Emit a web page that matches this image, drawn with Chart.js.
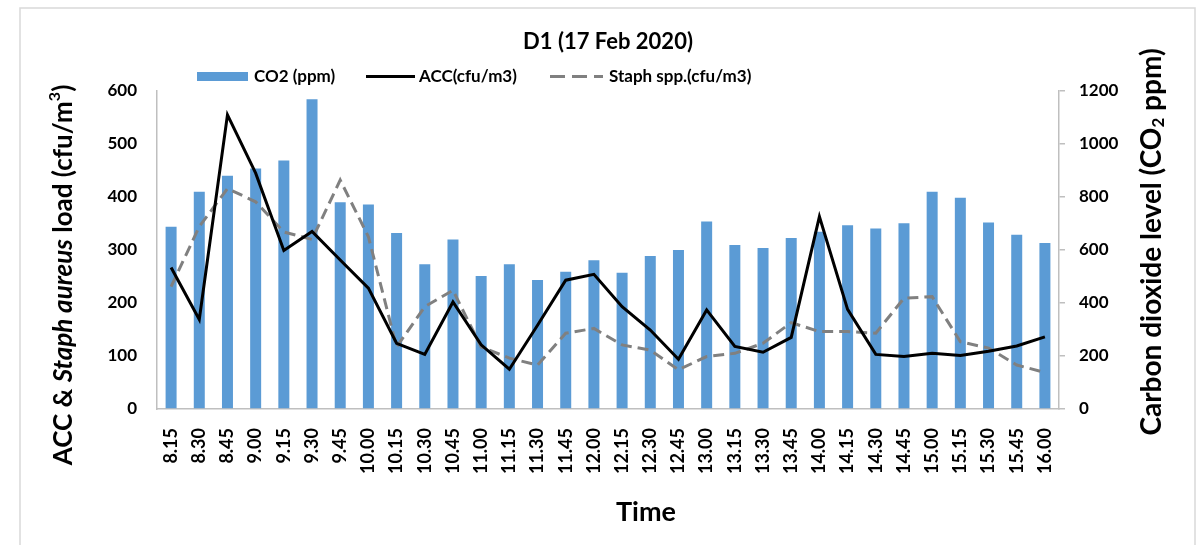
<!DOCTYPE html>
<html>
<head>
<meta charset="utf-8">
<script src="https://cdn.jsdelivr.net/npm/chart.js@4.4.1/dist/chart.umd.min.js"></script>
<style>
  html, body { margin: 0; padding: 0; background: #ffffff; }
  #wrap { width: 1198px; height: 545px; }
</style>
</head>
<body>
<div id="wrap"><canvas id="c" width="1198" height="545"></canvas></div>
<script>
// Sampling times (hh.mm)
const times = ['8.15','8.30','8.45','9.00','9.15','9.30','9.45','10.00','10.15','10.30','10.45',
  '11.00','11.15','11.30','11.45','12.00','12.15','12.30','12.45','13.00','13.15','13.30','13.45',
  '14.00','14.15','14.30','14.45','15.00','15.15','15.30','15.45','16.00'];

// CO2 concentration (ppm), right axis
const co2 = [688,820,880,908,938,1169,780,772,664,546,640,502,546,487,518,561,514,577,600,708,
  619,608,645,669,693,681,701,820,797,704,658,626];

// Aerobic colony count (cfu/m3), left axis
const acc = [267,169,555,445,299,335,281,228,124,103,202,121,75,158,243,254,193,149,94,187,
  118,107,135,363,188,103,99,105,101,109,119,136];

// Staphylococcus spp. (cfu/m3), left axis
const staph = [231,344,416,391,334,320,432,325,117,193,224,117,96,83,143,152,121,111,74,99,
  105,124,163,146,146,143,209,212,127,115,83,69];

const leftTicks = [0,100,200,300,400,500,600];
const rightTicks = [0,200,400,600,800,1000,1200];

const chartTitle = 'D1 (17 Feb 2020)';
const FONT = 'Lato, "Open Sans", sans-serif';
const AXIS_GREY = '#bfbfbf';

// Draws a rotated (bottom-to-top) title made of styled runs
function drawRotatedRuns(ctx, cx, cy, runs, size) {
  ctx.save();
  ctx.translate(cx, cy);
  ctx.rotate(-Math.PI / 2);
  ctx.fillStyle = '#000';
  ctx.textBaseline = 'middle';
  ctx.textAlign = 'left';
  const fontOf = r => (r.italic ? 'italic ' : '') + 'bold ' + (r.script ? Math.round(size * 0.6) : size) + 'px ' + FONT;
  let total = 0;
  runs.forEach(r => { ctx.font = fontOf(r); total += ctx.measureText(r.text).width; });
  let x = -total / 2;
  runs.forEach(r => {
    ctx.font = fontOf(r);
    const dy = r.script === 'sup' ? -size * 0.35 : r.script === 'sub' ? size * 0.25 : 0;
    ctx.fillText(r.text, x, dy);
    x += ctx.measureText(r.text).width;
  });
  ctx.restore();
}

const decorations = {
  id: 'decorations',
  beforeDraw(chart) {
    const ctx = chart.ctx;
    ctx.save();
    ctx.fillStyle = '#ffffff';
    ctx.fillRect(0, 0, chart.width, chart.height);
    ctx.strokeStyle = '#d9d9d9';
    ctx.lineWidth = 1.5;
    ctx.strokeRect(20, 8, 1175, 560);
    ctx.restore();
  },
  afterDraw(chart) {
    const ctx = chart.ctx;
    ctx.save();
    ctx.fillStyle = '#000';
    ctx.textBaseline = 'middle';

    // chart title
    ctx.font = 'bold 22px ' + FONT;
    ctx.textAlign = 'center';
    ctx.fillText(chartTitle, 608, 42);

    // legend row
    const items = [
      { ds: 0, x: 197, tx: 254 },
      { ds: 1, x: 366, tx: 419 },
      { ds: 2, x: 550, tx: 609 }
    ];
    const ly = 76.5;
    ctx.font = 'bold 17px ' + FONT;
    ctx.textAlign = 'left';
    items.forEach(it => {
      const ds = chart.data.datasets[it.ds];
      if (ds.type === 'bar') {
        ctx.fillStyle = ds.backgroundColor;
        ctx.fillRect(it.x, ly - 4.5, 51, 9);
      } else {
        ctx.strokeStyle = ds.borderColor;
        ctx.lineWidth = ds.borderWidth;
        ctx.setLineDash(ds.borderDash ? [15, 7] : []);
        ctx.beginPath();
        ctx.moveTo(it.x, ly);
        ctx.lineTo(it.x + (ds.borderDash ? 53 : 49), ly);
        ctx.stroke();
        ctx.setLineDash([]);
      }
      ctx.fillStyle = '#000';
      ctx.fillText(ds.label, it.tx, ly);
    });

    // x axis title
    ctx.font = 'bold 27px ' + FONT;
    ctx.textAlign = 'center';
    ctx.fillText('Time', 646, 512);
    ctx.restore();

    // y axis titles
    drawRotatedRuns(ctx, 64, 275, [
      { text: 'ACC & ' },
      { text: 'Staph aureus', italic: true },
      { text: ' load (cfu/m' },
      { text: '3', script: 'sup' },
      { text: ')' }
    ], 26);
    drawRotatedRuns(ctx, 1152, 242, [
      { text: 'Carbon dioxide level (CO' },
      { text: '2', script: 'sub' },
      { text: ' ppm)' }
    ], 28);
  }
};

new Chart(document.getElementById('c'), {
  data: {
    labels: times,
    datasets: [
      {
        type: 'bar',
        label: 'CO2 (ppm)',
        data: co2,
        yAxisID: 'y2',
        backgroundColor: '#5b9bd5',
        borderWidth: 0,
        barPercentage: 0.78,
        categoryPercentage: 0.5,
        order: 3
      },
      {
        type: 'line',
        label: 'ACC(cfu/m3)',
        data: acc,
        yAxisID: 'y',
        borderColor: '#000000',
        borderWidth: 3,
        pointRadius: 0,
        tension: 0,
        order: 1
      },
      {
        type: 'line',
        label: 'Staph spp.(cfu/m3)',
        data: staph,
        yAxisID: 'y',
        borderColor: '#808080',
        borderWidth: 3,
        borderDash: [11, 6],
        pointRadius: 0,
        tension: 0,
        order: 2
      }
    ]
  },
  options: {
    responsive: false,
    animation: false,
    devicePixelRatio: 1,
    layout: { padding: { top: 91, left: 0, right: 0, bottom: 0 } },
    plugins: {
      legend: { display: false },
      tooltip: { enabled: false },
      title: { display: false }
    },
    scales: {
      x: {
        offset: true,
        grid: { display: true, drawOnChartArea: false, drawTicks: false },
        border: { display: true, color: AXIS_GREY, width: 1.5 },
        ticks: {
          autoSkip: false, minRotation: 90, maxRotation: 90, padding: 19,
          color: '#000', font: { family: FONT, size: 18, weight: 'bold' }
        },
        afterFit(scale) { scale.height = 136; }
      },
      y: {
        position: 'left',
        min: 0, max: 600,
        afterBuildTicks(scale) { scale.ticks = leftTicks.map(v => ({ value: v })); },
        grid: { display: true, drawOnChartArea: false, drawTicks: false },
        border: { display: true, color: AXIS_GREY, width: 1.5 },
        ticks: {
          padding: 20, color: '#000', font: { family: FONT, size: 17, weight: 'bold' },
          callback: v => String(v)
        },
        afterFit(scale) { scale.width = 157; }
      },
      y2: {
        position: 'right',
        min: 0, max: 1200,
        afterBuildTicks(scale) { scale.ticks = rightTicks.map(v => ({ value: v })); },
        grid: { display: true, drawOnChartArea: false, drawTicks: true, tickLength: 6, color: AXIS_GREY, lineWidth: 1.5 },
        border: { display: true, color: AXIS_GREY, width: 1.5 },
        ticks: {
          padding: 14, color: '#000', font: { family: FONT, size: 17, weight: 'bold' },
          callback: v => String(v)
        },
        afterFit(scale) { scale.width = 139; }
      }
    }
  },
  plugins: [decorations]
});
</script>
</body>
</html>
